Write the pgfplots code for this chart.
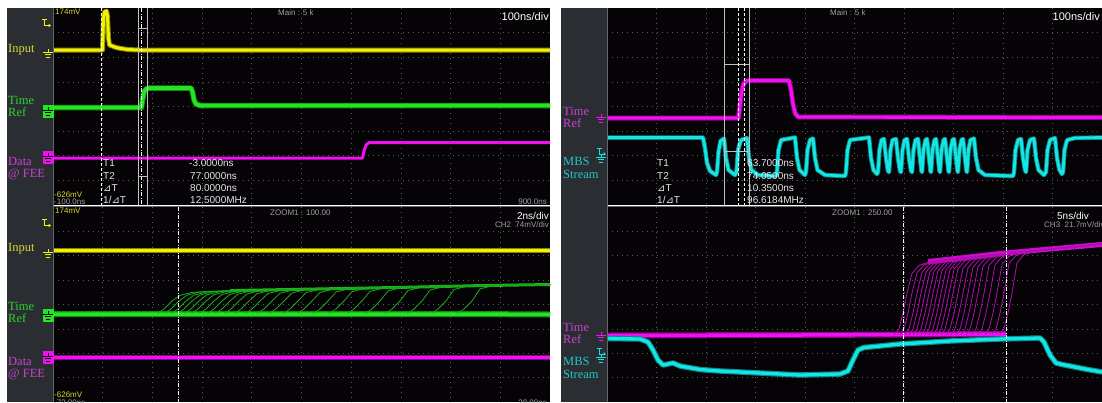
\documentclass[border=0pt]{standalone}
\usepackage{fontspec}
\setmainfont{Liberation Sans}
\newfontfamily\scserif{Liberation Serif}
\newfontfamily\dejavu{DejaVu Sans}
\usepackage{pgfplots}
\pgfplotsset{compat=1.18}
\definecolor{scopebg}{HTML}{060306}
\definecolor{strip}{HTML}{2A2E33}
\definecolor{gridc}{HTML}{5A5A5A}
\definecolor{ytr}{HTML}{F2F200}
\definecolor{ylab}{HTML}{D9D92E}
\definecolor{gtr}{HTML}{22E622}
\definecolor{glab}{HTML}{2ED22E}
\definecolor{mtr}{HTML}{F010F0}
\definecolor{mlab}{HTML}{D040D0}
\definecolor{ctr}{HTML}{14E6E6}
\definecolor{clab}{HTML}{22C8C8}
\definecolor{txtgrey}{HTML}{A0A0A0}
\definecolor{borderc}{HTML}{62666B}
\definecolor{meas}{HTML}{E6E6E6}
\newcommand{\dT}{{\dejavu ⊿}T}
\newcommand{\gnd}[3]{\draw[#3, line width=0.9pt] (#1,#2-3)--(#1,#2) (#1-5,#2)--(#1+5,#2) (#1-3.3,#2+2.7)--(#1+3.3,#2+2.7) (#1-1.6,#2+5.4)--(#1+1.6,#2+5.4);}
\newcommand{\gndbox}[3]{\fill[#3] (#1-5.5,#2-5) rectangle (#1+5.5,#2+8); \gnd{#1}{#2}{black}}
\newcommand{\trig}[3]{\draw[#3, line width=0.9pt] (#1-4,#2)--(#1+1,#2) (#1-1.5,#2)--(#1-1.5,#2+6)--(#1+2.5,#2+6); \fill[#3] (#1+5,#2+6)--(#1+2.5,#2+4.2)--(#1+2.5,#2+7.8)--cycle;}
\pgfplotsset{scopeax/.style={scale only axis, y dir=reverse, anchor=north west,
  axis line style={draw=none}, tick style={draw=none}, major tick length=0pt,
  xticklabels={}, yticklabels={}, grid=major,
  major grid style={gridc, line width=0.7pt, dash pattern=on 0.7pt off 4.3pt},
  axis background/.style={fill=scopebg}, clip=true}}
\tikzset{lab/.style={anchor=west, inner sep=0pt, font=\fontsize{12.5}{13}\scserif},
  sm/.style={inner sep=0pt, font=\fontsize{8}{8}\selectfont},
  ms/.style={anchor=west, inner sep=0pt, meas, font=\fontsize{10}{10}\selectfont},
  dashc/.style={white, line width=0.6pt, dash pattern=on 3pt off 2pt},
  dotc/.style={white, line width=0.6pt, dash pattern=on 4pt off 1.5pt on 1pt off 1.5pt},
  solc/.style={lightgray, line width=0.6pt}}
\begin{document}
\begin{tikzpicture}[x=1pt,y=-1pt]
\useasboundingbox (0,0) rectangle (1102,402);
\fill[white] (0,0) rectangle (1102,402);
\fill[strip] (7,8) rectangle (53,402);
\fill[strip] (561,8) rectangle (607,402);

% ===== left upper =====
\begin{axis}[scopeax, at={(53,8)}, width=497pt, height=197pt,
  xmin=53, xmax=550, ymin=8, ymax=205,
  xtick={102.7,152.4,202.1,251.8,301.5,351.2,400.9,450.6,500.3},
  ytick={32.6,57.3,81.9,106.5,131.1,155.8,180.4}]
\addplot[ytr!55!black, line width=5pt, line join=round] coordinates {(53,50) (102.5,50) (103.5,18) (104.5,12) (106.5,11) (107.5,16) (108.5,38) (109.5,45) (112,46) (116,47.5) (121,48.5) (128,49.5) (138,50) (550,50)};
\addplot[ytr, line width=3pt, line join=round] coordinates {(53,50) (102.5,50) (103.5,18) (104.5,12) (106.5,11) (107.5,16) (108.5,38) (109.5,45) (112,46) (116,47.5) (121,48.5) (128,49.5) (138,50) (550,50)};
\addplot[gtr!60!black, line width=5.5pt, line join=round] coordinates {(53,107.5) (141.5,107.5) (142.5,100) (144,92) (146,89) (149,88) (191,88) (192.5,92) (194,100) (196,104) (200,105.5) (550,105.5)};
\addplot[gtr, line width=3.8pt, line join=round] coordinates {(53,107.5) (141.5,107.5) (142.5,100) (144,92) (146,89) (149,88) (191,88) (192.5,92) (194,100) (196,104) (200,105.5) (550,105.5)};
\addplot[mtr, line width=3pt, line join=round] coordinates {(53,158) (362.5,158) (364,151) (366,145) (369,142.5) (550,142.5)};
\draw[dashc] (axis cs:101,8) -- (axis cs:101,205);
\draw[dotc] (axis cs:141.5,8) -- (axis cs:141.5,205);
\draw[solc] (axis cs:138,8) -- (axis cs:138,205) (axis cs:147.5,8) -- (axis cs:147.5,205)
  (axis cs:138,28) -- (axis cs:147.5,28) (axis cs:138,176) -- (axis cs:147.5,176);
\end{axis}

% ===== left lower =====
\begin{axis}[scopeax, at={(53,207)}, width=497pt, height=195pt,
  xmin=53, xmax=550, ymin=207, ymax=402,
  xtick={102.7,152.4,202.1,251.8,301.5,351.2,400.9,450.6,500.3},
  ytick={231.4,255.8,280.2,304.6,329,353.4,377.8}]
\addplot[ytr!55!black, line width=5pt] coordinates {(53,250) (550,250)};
\addplot[ytr, line width=3pt] coordinates {(53,250) (550,250)};
\addplot[gtr!60!black, line width=6pt] coordinates {(53,314) (470,314) (550,314.5)};
\addplot[gtr, line width=3.5pt] coordinates {(53,314) (470,314) (550,314.5)};
\addplot[gtr!80!black, line width=3pt] coordinates {(230,290.6) (300,289.3) (400,287.4) (480,285.6) (550,284.5)};
\addplot[gtr!75!black, line width=0.8pt] coordinates {(157,313) (158,313) (164,309) (172,301) (180,295.4) (192,292.4) (208,291.4) (550,284.5)};
\addplot[gtr!75!black, line width=0.8pt] coordinates {(164,313) (165,313) (171,309) (179,301) (187,295.2) (199,292.2) (215,291.2) (550,284.5)};
\addplot[gtr!75!black, line width=0.8pt] coordinates {(171,313) (172,313) (178,309) (186,301) (194,295.1) (206,292.1) (222,291.1) (550,284.5)};
\addplot[gtr!75!black, line width=0.8pt] coordinates {(177,313) (178,313) (184,309) (192,301) (200,295) (212,292) (228,291) (550,284.5)};
\addplot[gtr!75!black, line width=0.8pt] coordinates {(184,313) (185,313) (191,309) (199,301) (207,294.8) (219,291.8) (235,290.8) (550,284.5)};
\addplot[gtr!75!black, line width=0.8pt] coordinates {(191,313) (192,313) (198,309) (206,301) (214,294.7) (226,291.7) (242,290.7) (550,284.5)};
\addplot[gtr!75!black, line width=0.8pt] coordinates {(199,313) (200,313) (206,309) (214,301) (222,294.5) (234,291.5) (250,290.5) (550,284.5)};
\addplot[gtr!75!black, line width=0.8pt] coordinates {(207,313) (208,313) (214,309) (222,301) (230,294.3) (242,291.3) (258,290.3) (550,284.5)};
\addplot[gtr!75!black, line width=0.8pt] coordinates {(215,313) (216,313) (222,309) (230,301) (238,294.1) (250,291.1) (266,290.1) (550,284.5)};
\addplot[gtr!75!black, line width=0.8pt] coordinates {(224,313) (225,313) (231,309) (239,301) (247,293.9) (259,290.9) (275,289.9) (550,284.5)};
\addplot[gtr!75!black, line width=0.8pt] coordinates {(234,313) (235,313) (241,309) (249,301) (257,293.7) (269,290.7) (285,289.7) (550,284.5)};
\addplot[gtr!75!black, line width=0.8pt] coordinates {(245,313) (246,313) (252,309) (260,301) (268,293.5) (280,290.5) (296,289.5) (550,284.5)};
\addplot[gtr!75!black, line width=0.8pt] coordinates {(257,313) (258,313) (264,309) (272,301) (280,293.2) (292,290.2) (308,289.2) (550,284.5)};
\addplot[gtr!75!black, line width=0.8pt] coordinates {(269,313) (270,313) (276,309) (284,301) (292,293) (304,290) (320,289) (550,284.5)};
\addplot[gtr!75!black, line width=0.8pt] coordinates {(283,313) (284,313) (290,309) (298,301) (306,292.7) (318,289.7) (334,288.7) (550,284.5)};
\addplot[gtr!75!black, line width=0.8pt] coordinates {(297,313) (298,313) (304,309) (312,301) (320,292.4) (332,289.4) (348,288.4) (550,284.5)};
\addplot[gtr!75!black, line width=0.8pt] coordinates {(313,313) (314,313) (320,309) (328,301) (336,292) (348,289) (364,288) (550,284.5)};
\addplot[gtr!75!black, line width=0.8pt] coordinates {(329,313) (330,313) (336,309) (344,301) (352,291.7) (364,288.7) (380,287.7) (550,284.5)};
\addplot[gtr!75!black, line width=0.8pt] coordinates {(347,313) (348,313) (354,309) (362,301) (370,291.3) (382,288.3) (398,287.3) (550,284.5)};
\addplot[gtr!75!black, line width=0.8pt] coordinates {(365,313) (366,313) (372,309) (380,301) (388,290.9) (400,287.9) (416,286.9) (550,284.5)};
\addplot[gtr!75!black, line width=0.8pt] coordinates {(385,313) (386,313) (392,309) (400,301) (408,290.5) (420,287.5) (436,286.5) (550,284.5)};
\addplot[gtr!75!black, line width=0.8pt] coordinates {(407,313) (408,313) (414,309) (422,301) (430,290) (442,287) (458,286) (550,284.5)};
\addplot[gtr!75!black, line width=0.8pt] coordinates {(431,313) (432,313) (438,309) (446,301) (454,289.5) (466,286.5) (482,285.5) (550,284.5)};
\addplot[gtr!75!black, line width=0.8pt] coordinates {(457,313) (458,313) (464,309) (472,301) (480,288.9) (492,285.9) (508,284.9) (550,284.5)};
\addplot[mtr!55!black, line width=5pt] coordinates {(53,357.5) (550,357.5)};
\addplot[mtr, line width=3pt] coordinates {(53,357.5) (550,357.5)};
\draw[dotc] (axis cs:178,207) -- (axis cs:178,402);
\end{axis}

% ===== right upper =====
\begin{axis}[scopeax, at={(607,8)}, width=495pt, height=197pt,
  xmin=607, xmax=1102, ymin=8, ymax=205,
  xtick={656.5,706,755.5,805,854.5,904,953.5,1003,1052.5},
  ytick={32.6,57.3,81.9,106.5,131.1,155.8,180.4}]
\addplot[mtr!55!black, line width=5pt, line join=round] coordinates {(607,118) (738.5,118) (740,105) (741.5,92) (743.5,84) (747,80.5) (789,80.5) (791,90) (793,104) (795,113) (798,117) (1102,117.5)};
\addplot[mtr, line width=3.2pt, line join=round] coordinates {(607,118) (738.5,118) (740,105) (741.5,92) (743.5,84) (747,80.5) (789,80.5) (791,90) (793,104) (795,113) (798,117) (1102,117.5)};
\addplot[ctr!60!black, line width=4.5pt, line join=round] coordinates {
(607,137.5) (703,137.5) (705,148) (707,163) (710,171) (716,175)
(717,172) (718.5,152) (720.5,141) (724,138.5) (726,158) (728.5,170) (735,175)
(736.5,172) (738,150) (741,140) (747,138) (749,158) (751.5,170) (758,175) (776,176)
(777,172) (778.5,150) (781,140) (795,137.5) (797,158) (799.5,170) (805,175)
(806,172) (807.5,150) (810,140) (813,138.5) (815,158) (817.5,170) (825,175) (845,176)
(846,172) (847.5,150) (850,140) (869,137.5) (871,158) (873.5,170) (877,174)
(878,172) (879.5,150) (881.5,140) (884,139) (886,158) (888,171)
(889,172) (890.5,150) (892.5,140) (896,139) (898,158) (900,171)
(901,172) (902.5,150) (904.5,140) (907,139) (909,158) (911,171)
(912,172) (913.5,150) (915.5,140) (918,139) (920,158) (921.5,171)
(922,172) (923.5,150) (925.5,140) (927,139) (929,158) (930.5,171)
(931,172) (932.5,150) (934.5,140) (936,139) (938,158) (939.5,171)
(940,172) (941.5,150) (943.5,140) (945,139) (947,158) (948.5,171)
(949,172) (950.5,150) (952.5,140) (954,139) (956,158) (957.5,171)
(958,172) (959.5,150) (961.5,140) (963,139) (965,158) (966.5,171)
(967,172) (968.5,150) (970.5,140) (974,138.5) (976,158) (978.5,170) (985,175) (1013,176)
(1014,172) (1015.5,150) (1018,140) (1021,139) (1023,158) (1025,170)
(1026,172) (1027.5,150) (1030,140) (1034,138.5) (1036,158) (1038.5,170) (1044,175)
(1046,172) (1047.5,150) (1050,140) (1055,138) (1057,158) (1059.5,170) (1062,174)
(1063,172) (1064.5,150) (1067,140) (1075,138) (1102,137.5)};
\addplot[ctr, line width=2.8pt, line join=round] coordinates {
(607,137.5) (703,137.5) (705,148) (707,163) (710,171) (716,175)
(717,172) (718.5,152) (720.5,141) (724,138.5) (726,158) (728.5,170) (735,175)
(736.5,172) (738,150) (741,140) (747,138) (749,158) (751.5,170) (758,175) (776,176)
(777,172) (778.5,150) (781,140) (795,137.5) (797,158) (799.5,170) (805,175)
(806,172) (807.5,150) (810,140) (813,138.5) (815,158) (817.5,170) (825,175) (845,176)
(846,172) (847.5,150) (850,140) (869,137.5) (871,158) (873.5,170) (877,174)
(878,172) (879.5,150) (881.5,140) (884,139) (886,158) (888,171)
(889,172) (890.5,150) (892.5,140) (896,139) (898,158) (900,171)
(901,172) (902.5,150) (904.5,140) (907,139) (909,158) (911,171)
(912,172) (913.5,150) (915.5,140) (918,139) (920,158) (921.5,171)
(922,172) (923.5,150) (925.5,140) (927,139) (929,158) (930.5,171)
(931,172) (932.5,150) (934.5,140) (936,139) (938,158) (939.5,171)
(940,172) (941.5,150) (943.5,140) (945,139) (947,158) (948.5,171)
(949,172) (950.5,150) (952.5,140) (954,139) (956,158) (957.5,171)
(958,172) (959.5,150) (961.5,140) (963,139) (965,158) (966.5,171)
(967,172) (968.5,150) (970.5,140) (974,138.5) (976,158) (978.5,170) (985,175) (1013,176)
(1014,172) (1015.5,150) (1018,140) (1021,139) (1023,158) (1025,170)
(1026,172) (1027.5,150) (1030,140) (1034,138.5) (1036,158) (1038.5,170) (1044,175)
(1046,172) (1047.5,150) (1050,140) (1055,138) (1057,158) (1059.5,170) (1062,174)
(1063,172) (1064.5,150) (1067,140) (1075,138) (1102,137.5)};
\draw[solc] (axis cs:724,8) -- (axis cs:724,205) (axis cs:749,8) -- (axis cs:749,205)
  (axis cs:724,64) -- (axis cs:749,64) (axis cs:724,151) -- (axis cs:749,151);
\draw[dashc] (axis cs:738,8) -- (axis cs:738,205);
\draw[dashc] (axis cs:744,8) -- (axis cs:744,205);
\end{axis}

% ===== right lower =====
\begin{axis}[scopeax, at={(607,207)}, width=495pt, height=195pt,
  xmin=607, xmax=1102, ymin=207, ymax=402,
  xtick={656.5,706,755.5,805,854.5,904,953.5,1003,1052.5},
  ytick={231.4,255.8,280.2,304.6,329,353.4,377.8}]
\addplot[mtr!55!black, line width=6pt] coordinates {(607,335.5) (800,335) (1006,334)};
\addplot[mtr, line width=3.5pt] coordinates {(607,335.5) (800,335) (1006,334)};
\addplot[mtr!85!black, line width=5pt] coordinates {(928,261.5) (960,258) (1000,253.5) (1050,249) (1102,244.5)};
\addplot[mtr!75!black, line width=0.8pt] coordinates {(894,335) (899,329) (903,313) (907,293) (912,273.4) (919,265.4) (931,261.4) (1102,244)};
\addplot[mtr!75!black, line width=0.8pt] coordinates {(900,335) (904,329) (908,313) (912,293) (917,272.9) (924,264.9) (936,260.9) (1102,244)};
\addplot[mtr!75!black, line width=0.8pt] coordinates {(905,335) (909,329) (913,313) (917,293) (922,272.4) (929,264.4) (941,260.4) (1102,244)};
\addplot[mtr!75!black, line width=0.8pt] coordinates {(909,335) (913,329) (917,313) (921,293) (926,272) (933,264) (945,260) (1102,244)};
\addplot[mtr!75!black, line width=0.8pt] coordinates {(913,335) (917,329) (921,313) (925,293) (930,271.6) (937,263.6) (949,259.6) (1102,244)};
\addplot[mtr!75!black, line width=0.8pt] coordinates {(917,335) (921,329) (925,313) (929,293) (934,271.1) (941,263.1) (953,259.1) (1102,244)};
\addplot[mtr!75!black, line width=0.8pt] coordinates {(921,335) (925,329) (929,313) (933,293) (938,270.7) (945,262.7) (957,258.7) (1102,244)};
\addplot[mtr!75!black, line width=0.8pt] coordinates {(925,335) (929,329) (933,313) (937,293) (942,270.3) (949,262.3) (961,258.3) (1102,244)};
\addplot[mtr!75!black, line width=0.8pt] coordinates {(929,335) (933,329) (937,313) (941,293) (946,269.9) (953,261.9) (965,257.9) (1102,244)};
\addplot[mtr!75!black, line width=0.8pt] coordinates {(933,335) (937,329) (941,313) (945,293) (950,269.5) (957,261.5) (969,257.5) (1102,244)};
\addplot[mtr!75!black, line width=0.8pt] coordinates {(937,335) (941,329) (945,313) (949,293) (954,269.1) (961,261.1) (973,257.1) (1102,244)};
\addplot[mtr!75!black, line width=0.8pt] coordinates {(941,335) (945,329) (949,313) (953,293) (958,268.7) (965,260.7) (977,256.7) (1102,244)};
\addplot[mtr!75!black, line width=0.8pt] coordinates {(946,335) (950,329) (954,313) (958,293) (963,268.2) (970,260.2) (982,256.2) (1102,244)};
\addplot[mtr!75!black, line width=0.8pt] coordinates {(951,335) (955,329) (959,313) (963,293) (968,267.7) (975,259.7) (987,255.7) (1102,244)};
\addplot[mtr!75!black, line width=0.8pt] coordinates {(956,335) (960,329) (964,313) (968,293) (973,267.2) (980,259.2) (992,255.2) (1102,244)};
\addplot[mtr!75!black, line width=0.8pt] coordinates {(961,335) (965,329) (969,313) (973,293) (978,266.7) (985,258.7) (997,254.7) (1102,244)};
\addplot[mtr!75!black, line width=0.8pt] coordinates {(966,335) (970,329) (974,313) (978,293) (983,266.1) (990,258.1) (1002,254.1) (1102,244)};
\addplot[mtr!75!black, line width=0.8pt] coordinates {(972,334.5) (976,329) (980,313) (984,293) (989,265.5) (996,257.5) (1008,253.5) (1102,244)};
\addplot[mtr!75!black, line width=0.8pt] coordinates {(978,334.5) (982,329) (986,313) (990,293) (995,264.9) (1002,256.9) (1014,252.9) (1102,244)};
\addplot[mtr!75!black, line width=0.8pt] coordinates {(985,334.5) (989,329) (993,313) (997,293) (1002,264.2) (1009,256.2) (1021,252.2) (1102,244)};
\addplot[mtr!75!black, line width=0.8pt] coordinates {(992,334) (996,329) (1000,313) (1004,293) (1009,263.5) (1016,255.5) (1028,251.5) (1102,244)};
\addplot[mtr!75!black, line width=0.8pt] coordinates {(1000,334) (1004,329) (1008,313) (1012,293) (1017,262.7) (1024,254.7) (1036,250.7) (1102,244)};
\addplot[ctr!60!black, line width=5.5pt, line join=round] coordinates {(607,338.5) (640,339) (648,342) (653,350) (658,360) (663,365) (668,364) (673,363) (680,366) (700,369.5) (720,371) (760,373) (800,375) (840,374) (848,371) (853,360) (858,350) (864,347.5) (880,346) (900,344) (950,341) (1000,339) (1040,338) (1044,342) (1050,355) (1056,363) (1062,364.5) (1070,366) (1085,369) (1102,372)};
\addplot[ctr, line width=3.3pt, line join=round] coordinates {(607,338.5) (640,339) (648,342) (653,350) (658,360) (663,365) (668,364) (673,363) (680,366) (700,369.5) (720,371) (760,373) (800,375) (840,374) (848,371) (853,360) (858,350) (864,347.5) (880,346) (900,344) (950,341) (1000,339) (1040,338) (1044,342) (1050,355) (1056,363) (1062,364.5) (1070,366) (1085,369) (1102,372)};
\draw[dotc] (axis cs:903,207) -- (axis cs:903,402);
\draw[dotc] (axis cs:1006,207) -- (axis cs:1006,402);
\end{axis}

% borders
\draw[borderc, line width=0.8pt] (53.4,8)--(53.4,402) (53,206)--(550,206);
\draw[borderc, line width=0.8pt] (607.4,8)--(607.4,402) (607,206)--(1102,206);

% ===== left panel texts =====
\trig{46}{19.5}{ytr}
\trig{46}{219.5}{ytr}
\gnd{48}{52}{ytr}
\gndbox{48}{110}{gtr}
\gndbox{48}{156}{mtr}
\gnd{48}{252}{ytr}
\gndbox{48}{314}{gtr}
\gndbox{48}{356}{mtr}
\node[lab, ylab] at (8,50) {Input};
\node[lab, glab] at (8,100) {Time};
\node[lab, glab] at (8,112.5) {Ref};
\node[lab, mlab] at (8,161.5) {Data};
\node[lab, mlab] at (8,174.5) {@ FEE};
\node[lab, ylab] at (8,249) {Input};
\node[lab, glab] at (8,306) {Time};
\node[lab, glab] at (8,318.5) {Ref};
\node[lab, mlab] at (8,361.5) {Data};
\node[lab, mlab] at (8,374.5) {@ FEE};

\node[sm, ylab, anchor=north west] at (55,9) {174mV};
\node[sm, ylab, anchor=west] at (54,195) {-626mV};
\node[sm, txtgrey, anchor=west] at (54,201.5) {-100.0ns};
\node[sm, txtgrey, anchor=east] at (547,201.5) {900.0ns};
\node[sm, txtgrey, anchor=west] at (278,13) {Main : 5 k};
\node[inner sep=0pt, white, anchor=east, font=\fontsize{11}{11}\selectfont] at (549,17) {100ns/div};
\node[ms] at (103,163) {T1};
\node[ms] at (103,176) {T2};
\node[ms] at (103,188) {\dT};
\node[ms] at (103,200) {1/\dT};
\node[ms] at (189,163) {-3.0000ns};
\node[ms] at (190,176) {77.0000ns};
\node[ms] at (190,188) {80.0000ns};
\node[ms] at (190,200) {12.5000MHz};

\node[sm, ylab, anchor=north west] at (55,208) {174mV};
\node[sm, ylab, anchor=west] at (54,395) {-626mV};
\node[sm, txtgrey, anchor=west] at (54,402.5) {-72.00ns};
\node[sm, txtgrey, anchor=east] at (547,402.5) {28.00ns};
\node[sm, txtgrey, anchor=west] at (270,213) {ZOOM1 : 100.00};
\node[inner sep=0pt, white, anchor=east, font=\fontsize{10}{10}\selectfont] at (549,216) {2ns/div};
\node[sm, txtgrey, anchor=east] at (549,225) {CH2\ \ 74mV/div};

% ===== right panel texts =====
\gnd{601}{117}{mtr}
\trig{601}{148}{ctr}
\gnd{601}{157}{ctr}
\gnd{601}{335}{mtr}
\trig{601}{348}{ctr}
\gnd{601}{357}{ctr}
\node[lab, mlab] at (563,111) {Time};
\node[lab, mlab] at (563,123.5) {Ref};
\node[lab, clab] at (563,161) {MBS};
\node[lab, clab] at (563,174) {Stream};
\node[lab, mlab] at (563,327) {Time};
\node[lab, mlab] at (563,339.5) {Ref};
\node[lab, clab] at (563,361) {MBS};
\node[lab, clab] at (563,374) {Stream};

\node[sm, txtgrey, anchor=west] at (830,13) {Main : 5 k};
\node[inner sep=0pt, white, anchor=east, font=\fontsize{11}{11}\selectfont] at (1100,17) {100ns/div};
\node[ms] at (657,163) {T1};
\node[ms] at (657,176) {T2};
\node[ms] at (657,188) {\dT};
\node[ms] at (657,200) {1/\dT};
\node[ms] at (747,163) {63.7000ns};
\node[ms] at (747,176) {74.0500ns};
\node[ms] at (747,188) {10.3500ns};
\node[ms] at (747,200) {96.6184MHz};

\node[sm, txtgrey, anchor=west] at (832,213) {ZOOM1 : 250.00};
\node[inner sep=0pt, white, anchor=east, font=\fontsize{10}{10}\selectfont] at (1089,216) {5ns/div};
\node[sm, txtgrey, anchor=west] at (1044,225) {CH3\ \ 21.7mV/div};
\end{tikzpicture}
\end{document}
